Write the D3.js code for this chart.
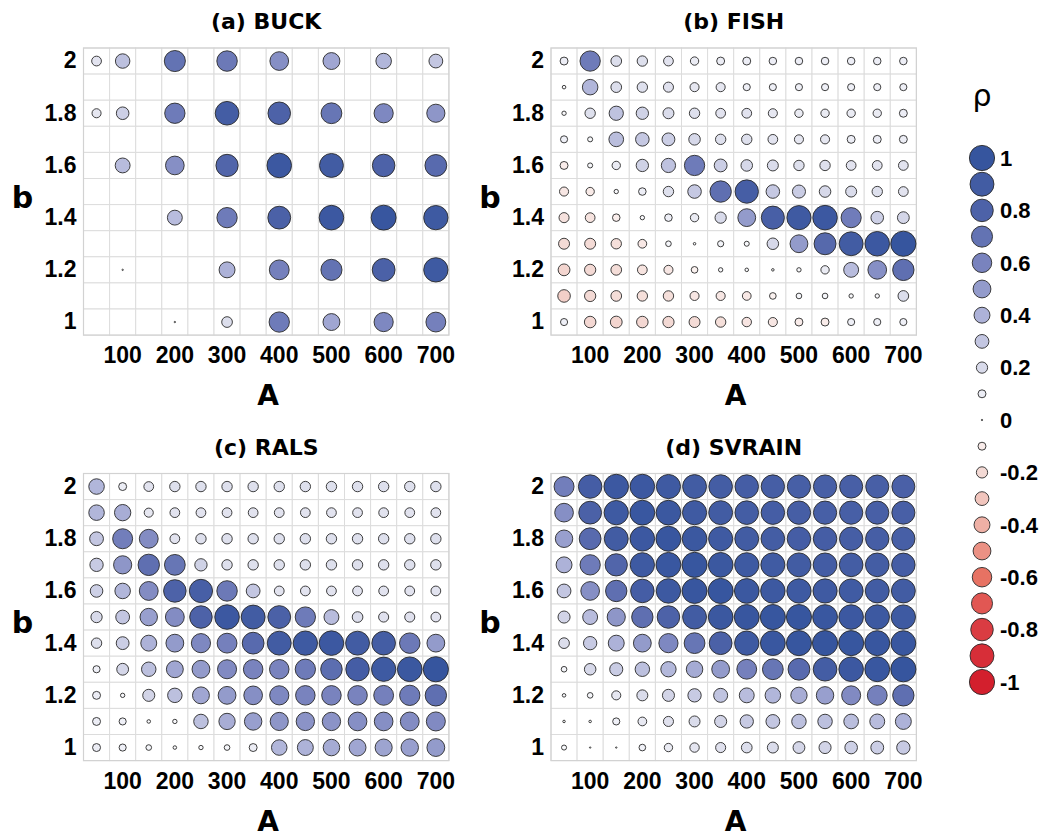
<!DOCTYPE html>
<html>
<head>
<meta charset="utf-8">
<script src="https://cdn.jsdelivr.net/npm/d3@7"></script>
<style>
  html, body { margin: 0; padding: 0; background: #ffffff; }
  svg { display: block; }
</style>
</head>
<body>
<svg id="chart" width="1047" height="838"></svg>
<script>
// Grid axes: A along columns, b along rows (top row is b = 2)
const aValues = [50, 100, 150, 200, 250, 300, 350, 400, 450, 500, 550, 600, 650, 700];
const bValues = [2.0, 1.9, 1.8, 1.7, 1.6, 1.5, 1.4, 1.3, 1.2, 1.1, 1.0];
const aTicks = [100, 200, 300, 400, 500, 600, 700];
const bTicks = [2.0, 1.8, 1.6, 1.4, 1.2, 1.0];
const legendValues = [1, 0.9, 0.8, 0.7, 0.6, 0.5, 0.4, 0.3, 0.2, 0.1, 0, -0.1, -0.2, -0.3, -0.4, -0.5, -0.6, -0.7, -0.8, -0.9, -1];
const legendLabels = [1, 0.8, 0.6, 0.4, 0.2, 0, -0.2, -0.4, -0.6, -0.8, -1];

// Correlation rho per (b row, A column); null = not evaluated
const buckRho = [
  [0.15, 0.33, null, 0.70, null, 0.66, null, 0.55, null, 0.45, null, 0.38, null, 0.30],
  [null, null, null, null, null, null, null, null, null, null, null, null, null, null],
  [0.13, 0.25, null, 0.65, null, 0.88, null, 0.80, null, 0.68, null, 0.58, null, 0.52],
  [null, null, null, null, null, null, null, null, null, null, null, null, null, null],
  [null, 0.35, null, 0.55, null, 0.78, null, 0.95, null, 0.90, null, 0.80, null, 0.75],
  [null, null, null, null, null, null, null, null, null, null, null, null, null, null],
  [null, null, null, 0.35, null, 0.65, null, 0.82, null, 0.95, null, 0.98, null, 0.93],
  [null, null, null, null, null, null, null, null, null, null, null, null, null, null],
  [null, 0.00, null, null, null, 0.40, null, 0.62, null, 0.70, null, 0.82, null, 0.93],
  [null, null, null, null, null, null, null, null, null, null, null, null, null, null],
  [null, null, null, 0.00, null, 0.18, null, 0.65, null, 0.45, null, 0.58, null, 0.62]
];

const fishRho = [
  [0.10, 0.65, 0.18, 0.17, 0.15, 0.11, 0.10, 0.10, 0.09, 0.09, 0.09, 0.09, 0.09, 0.09],
  [0.02, 0.38, 0.18, 0.17, 0.16, 0.13, 0.13, 0.08, 0.08, 0.08, 0.08, 0.08, 0.08, 0.08],
  [0.03, 0.17, 0.32, 0.24, 0.19, 0.17, 0.15, 0.15, 0.13, 0.11, 0.11, 0.11, 0.11, 0.10],
  [0.08, 0.04, 0.34, 0.29, 0.26, 0.21, 0.17, 0.17, 0.15, 0.13, 0.13, 0.10, 0.10, 0.10],
  [-0.10, 0.04, 0.11, 0.24, 0.32, 0.65, 0.26, 0.21, 0.19, 0.17, 0.17, 0.15, 0.15, 0.15],
  [-0.13, -0.11, 0.03, 0.09, 0.17, 0.29, 0.72, 0.86, 0.29, 0.27, 0.21, 0.19, 0.17, 0.15],
  [-0.16, -0.15, -0.09, 0.03, 0.09, 0.11, 0.20, 0.50, 0.84, 0.92, 0.95, 0.64, 0.25, 0.22],
  [-0.19, -0.19, -0.17, -0.12, 0.05, 0.01, 0.06, 0.04, 0.21, 0.50, 0.76, 0.90, 0.95, 1.00],
  [-0.22, -0.20, -0.18, -0.15, -0.13, -0.07, 0.03, 0.02, 0.01, 0.03, 0.11, 0.35, 0.55, 0.72],
  [-0.25, -0.20, -0.18, -0.17, -0.17, -0.13, -0.13, -0.12, -0.07, 0.05, 0.05, 0.03, 0.03, 0.18],
  [0.08, -0.21, -0.22, -0.21, -0.20, -0.19, -0.17, -0.14, -0.13, -0.10, -0.10, 0.08, 0.08, 0.08]
];

const ralsRho = [
  [0.38, 0.10, 0.15, 0.17, 0.17, 0.17, 0.17, 0.17, 0.17, 0.17, 0.17, 0.17, 0.17, 0.17],
  [0.38, 0.42, 0.13, 0.15, 0.15, 0.15, 0.15, 0.15, 0.15, 0.15, 0.15, 0.15, 0.15, 0.15],
  [0.30, 0.63, 0.56, 0.15, 0.17, 0.17, 0.17, 0.17, 0.17, 0.17, 0.17, 0.17, 0.17, 0.17],
  [0.28, 0.52, 0.72, 0.68, 0.24, 0.17, 0.17, 0.17, 0.17, 0.17, 0.17, 0.17, 0.17, 0.17],
  [0.25, 0.38, 0.56, 0.80, 0.85, 0.66, 0.30, 0.15, 0.15, 0.15, 0.15, 0.15, 0.15, 0.15],
  [0.20, 0.30, 0.48, 0.56, 0.80, 0.95, 0.90, 0.82, 0.65, 0.35, 0.18, 0.16, 0.16, 0.15],
  [0.17, 0.26, 0.40, 0.50, 0.58, 0.62, 0.75, 0.90, 0.93, 0.95, 0.90, 0.88, 0.66, 0.50],
  [0.08, 0.22, 0.33, 0.45, 0.50, 0.57, 0.60, 0.60, 0.65, 0.73, 0.87, 0.93, 0.96, 1.00],
  [0.10, 0.03, 0.23, 0.33, 0.45, 0.50, 0.55, 0.58, 0.60, 0.60, 0.60, 0.62, 0.65, 0.72],
  [0.10, 0.08, 0.02, 0.03, 0.33, 0.42, 0.48, 0.52, 0.53, 0.53, 0.55, 0.55, 0.56, 0.57],
  [0.10, 0.08, 0.05, 0.02, 0.03, 0.05, 0.10, 0.38, 0.40, 0.43, 0.45, 0.46, 0.48, 0.50]
];

const svrainRho = [
  [0.63, 0.87, 0.95, 0.95, 0.92, 0.90, 0.88, 0.87, 0.86, 0.85, 0.85, 0.84, 0.84, 0.83],
  [0.55, 0.82, 0.93, 0.97, 0.96, 0.92, 0.90, 0.88, 0.87, 0.86, 0.85, 0.85, 0.84, 0.84],
  [0.48, 0.75, 0.90, 0.95, 0.98, 0.96, 0.92, 0.90, 0.88, 0.87, 0.87, 0.86, 0.86, 0.85],
  [0.40, 0.65, 0.78, 0.93, 0.97, 0.99, 0.96, 0.93, 0.91, 0.90, 0.89, 0.88, 0.88, 0.87],
  [0.30, 0.55, 0.72, 0.87, 0.94, 0.98, 0.99, 0.96, 0.94, 0.93, 0.92, 0.91, 0.90, 0.90],
  [0.23, 0.35, 0.52, 0.72, 0.80, 0.90, 0.96, 0.98, 0.99, 0.99, 0.97, 0.95, 0.94, 0.93],
  [0.18, 0.28, 0.40, 0.50, 0.58, 0.68, 0.82, 0.93, 0.97, 0.99, 1.00, 0.99, 0.98, 0.97],
  [0.05, 0.21, 0.27, 0.33, 0.37, 0.43, 0.50, 0.62, 0.68, 0.75, 0.88, 0.95, 0.97, 1.00],
  [0.02, 0.05, 0.13, 0.19, 0.23, 0.28, 0.31, 0.35, 0.38, 0.42, 0.48, 0.57, 0.62, 0.72],
  [0.01, 0.01, 0.08, 0.12, 0.16, 0.19, 0.23, 0.28, 0.30, 0.33, 0.33, 0.34, 0.35, 0.40],
  [0.04, 0.00, 0.00, 0.07, 0.11, 0.14, 0.16, 0.18, 0.19, 0.22, 0.23, 0.25, 0.26, 0.28]
];

const panelTitles = ["(a) BUCK", "(b) FISH", "(c) RALS", "(d) SVRAIN"];
const panelData = [buckRho, fishRho, ralsRho, svrainRho];

// ---- styling / layout ----
const cell = 26.1;
const plotW = cell * aValues.length;
const plotH = cell * bValues.length;
const panelOrigins = [[83.5, 48], [551, 48], [83.5, 473.5], [551, 473.5]];
const tickFont = "'Liberation Sans', Arial, sans-serif";
const titleFont = "'DejaVu Sans', sans-serif";

const color = d3.scaleLinear()
  .domain([-1, -0.8, -0.6, -0.4, -0.2, 0, 0.2, 0.4, 0.6, 0.8, 1])
  .range(["#d31f2d", "#da3c42", "#e77263", "#eeb0a5", "#f3d9d4", "#ffffff",
          "#d8daea", "#adb2d8", "#7983be", "#4d62a8", "#36559e"])
  .clamp(true);
const rMax = 12.6;
const radius = v => Math.max(0.7, rMax * Math.sqrt(Math.abs(v)));
const plainNumber = d => String(d);   // ASCII hyphen for negatives

const svg = d3.select("#chart");
svg.append("rect").attr("width", 1047).attr("height", 838).attr("fill", "#ffffff");

panelData.forEach((rho, p) => {
  const [x0, y0] = panelOrigins[p];
  const x = d3.scaleBand().domain(aValues).range([x0, x0 + plotW]);
  const y = d3.scaleBand().domain(bValues).range([y0, y0 + plotH]);
  const g = svg.append("g");

  // grid cells
  const cells = [];
  bValues.forEach((b, i) => aValues.forEach((a, j) => cells.push({ a, b, v: rho[i][j] })));

  g.append("g").selectAll("rect").data(cells).join("rect")
    .attr("x", d => x(d.a)).attr("y", d => y(d.b))
    .attr("width", x.bandwidth()).attr("height", y.bandwidth())
    .attr("fill", "#ffffff").attr("stroke", "#dcdcdc").attr("stroke-width", 1);

  g.append("rect")
    .attr("x", x0).attr("y", y0).attr("width", plotW).attr("height", plotH)
    .attr("fill", "none").attr("stroke", "#d2d2d2").attr("stroke-width", 1.2);

  // correlation circles
  g.append("g").selectAll("circle").data(cells.filter(d => d.v !== null)).join("circle")
    .attr("cx", d => x(d.a) + x.bandwidth() / 2)
    .attr("cy", d => y(d.b) + y.bandwidth() / 2)
    .attr("r", d => radius(d.v))
    .attr("fill", d => color(d.v))
    .attr("stroke", "#2a2a2a").attr("stroke-width", 0.9);

  // axes
  const xAxis = g.append("g")
    .attr("transform", `translate(0,${y0 + plotH})`)
    .call(d3.axisBottom(x).tickValues(aTicks).tickSize(0).tickPadding(12));
  const yAxis = g.append("g")
    .attr("transform", `translate(${x0},0)`)
    .call(d3.axisLeft(y).tickValues(bTicks).tickSize(0).tickPadding(7)
      .tickFormat(plainNumber));
  [xAxis, yAxis].forEach(ax => {
    ax.select(".domain").remove();
    ax.selectAll("text")
      .attr("font-family", tickFont).attr("font-weight", "bold")
      .attr("font-size", 23).attr("fill", "#000");
  });

  // titles and axis names
  g.append("text")
    .attr("x", x0 + plotW / 2).attr("y", y0 - 19)
    .attr("text-anchor", "middle")
    .attr("font-family", titleFont).attr("font-weight", "bold").attr("font-size", 22)
    .text(panelTitles[p]);
  g.append("text")
    .attr("x", x0 - 61).attr("y", y0 + plotH / 2 + 16)
    .attr("text-anchor", "middle")
    .attr("font-family", titleFont).attr("font-weight", "bold").attr("font-size", 30)
    .text("b");
  g.append("text")
    .attr("x", x0 + plotW / 2 + 2).attr("y", y0 + plotH + 70)
    .attr("text-anchor", "middle")
    .attr("font-family", titleFont).attr("font-weight", "bold").attr("font-size", 28)
    .text("A");
});

// legend
const legend = svg.append("g");
const ly = d3.scalePoint().domain(legendValues).range([158, 682]);
legend.append("text")
  .attr("x", 982).attr("y", 106).attr("text-anchor", "middle")
  .attr("font-family", titleFont).attr("font-size", 30)
  .text("ρ");
legend.selectAll("circle").data(legendValues).join("circle")
  .attr("cx", 982).attr("cy", d => ly(d))
  .attr("r", d => radius(d))
  .attr("fill", d => color(d))
  .attr("stroke", "#2a2a2a").attr("stroke-width", 0.9);
legend.selectAll("text.lab").data(legendLabels).join("text")
  .attr("class", "lab")
  .attr("x", 1000).attr("y", d => ly(d)).attr("dy", "0.35em")
  .attr("font-family", tickFont).attr("font-weight", "bold").attr("font-size", 22)
  .text(plainNumber);
</script>
</body>
</html>
